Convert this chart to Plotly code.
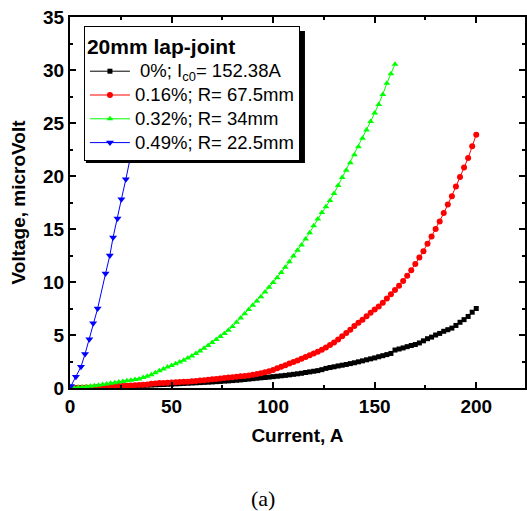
import plotly.graph_objects as go

# ---------------- data ----------------
current_a = [0, 2, 4, 6, 8, 10, 12, 14, 16, 18, 20, 22, 24, 26, 28, 30, 32, 34, 36, 38,
             40, 42, 44, 46, 48, 50, 52, 54, 56, 58, 60, 62, 64, 66, 68, 70, 72, 74, 76, 78,
             80, 82, 84, 86, 88, 90, 92, 94, 96, 98, 100, 102, 104, 106, 108, 110, 112, 114,
             116, 118, 120, 122, 124, 126, 128, 130, 132, 134, 136, 138, 140, 142, 144, 146,
             148, 150, 152, 154, 156, 158, 160, 162, 164, 166, 168, 170, 172, 174, 176, 178,
             180, 182, 184, 186, 188, 190, 192, 194, 196, 198, 200]

v_0pct = [0.0, 0.01, 0.02, 0.03, 0.04, 0.05, 0.06, 0.08, 0.09, 0.10, 0.12, 0.13, 0.15, 0.17,
          0.18, 0.20, 0.21, 0.23, 0.25, 0.26, 0.28, 0.30, 0.32, 0.33, 0.35, 0.37, 0.39, 0.41,
          0.43, 0.45, 0.47, 0.49, 0.51, 0.53, 0.55, 0.57, 0.60, 0.62, 0.65, 0.67, 0.70, 0.73,
          0.76, 0.80, 0.84, 0.88, 0.92, 0.96, 0.99, 1.03, 1.07, 1.11, 1.15, 1.19, 1.24, 1.29,
          1.34, 1.39, 1.46, 1.52, 1.58, 1.64, 1.73, 1.85, 1.93, 2.00, 2.08, 2.15, 2.22, 2.30,
          2.38, 2.47, 2.56, 2.66, 2.75, 2.84, 2.95, 3.05, 3.15, 3.26, 3.58, 3.68, 3.78, 3.90,
          4.01, 4.10, 4.25, 4.45, 4.65, 4.80, 5.00, 5.15, 5.35, 5.50, 5.65, 5.90, 6.20, 6.45,
          6.75, 7.15, 7.50]

v_016pct = [0.0, 0.01, 0.02, 0.03, 0.04, 0.05, 0.07, 0.08, 0.10, 0.12, 0.14, 0.16, 0.18, 0.20,
            0.22, 0.24, 0.26, 0.28, 0.31, 0.34, 0.40, 0.43, 0.46, 0.48, 0.50, 0.52, 0.54, 0.56,
            0.58, 0.60, 0.63, 0.66, 0.70, 0.74, 0.78, 0.82, 0.86, 0.90, 0.94, 0.98, 1.02, 1.06,
            1.10, 1.14, 1.19, 1.25, 1.31, 1.39, 1.48, 1.58, 1.70, 1.86, 2.00, 2.15, 2.30, 2.45,
            2.60, 2.76, 2.92, 3.08, 3.25, 3.43, 3.62, 3.82, 4.05, 4.30, 4.58, 4.88, 5.18, 5.50,
            5.85, 6.15, 6.45, 6.78, 7.10, 7.40, 7.70, 8.05, 8.45, 8.85, 9.25, 9.65, 10.10, 10.60,
            11.10, 11.70, 12.30, 12.90, 13.60, 14.30, 15.00, 15.70, 16.50, 17.30, 18.10, 19.00,
            19.90, 20.80, 21.70, 22.80, 23.90]

v_032pct = [0.0, 0.03, 0.06, 0.09, 0.12, 0.17, 0.22, 0.27, 0.32, 0.38, 0.44, 0.50, 0.56, 0.62,
            0.68, 0.74, 0.80, 0.86, 0.98, 1.10, 1.25, 1.45, 1.62, 1.80, 1.97, 2.12, 2.28, 2.45,
            2.62, 2.82, 3.02, 3.25, 3.48, 3.75, 4.02, 4.30, 4.58, 4.86, 5.15, 5.45, 5.80, 6.20,
            6.60, 7.00, 7.40, 7.80, 8.20, 8.62, 9.05, 9.50, 9.95, 10.40, 10.90, 11.40, 11.90,
            12.45, 13.00, 13.50, 14.05, 14.65, 15.30, 15.95, 16.55, 17.10, 17.70, 18.35, 19.10,
            19.85, 20.55, 21.25, 22.00, 22.75, 23.55, 24.35, 25.15, 25.95, 26.75, 27.70, 28.75,
            29.65, 30.55]

current_049pct = [0.5, 2.9, 5.4, 7.4, 9.5, 11.4, 13.6, 17.5, 19.6, 21.2, 23.4, 25.3, 27.5,
                  29.4, 31.5, 33.5]
v_049pct = [0.2, 1.07, 2.0, 3.2, 4.6, 6.1, 7.5, 10.8, 12.5, 14.2, 16.0, 17.8, 19.7, 21.5,
            23.4, 25.3]

names = ["\u00a00%; I<sub>c0</sub>= 152.38A",
         "0.16%; R= 67.5mm",
         "0.32%; R= 34mm",
         "0.49%; R= 22.5mm"]

# ---------------- figure ----------------
FONT = "Arial, 'Liberation Sans', sans-serif"
fig = go.Figure()

def label(s):
    return '<span style="font-size:18.5px">' + s + '</span>'

fig.add_trace(go.Scatter(x=current_a, y=v_0pct, name=label(names[0]), mode="lines+markers",
                         line=dict(color="black", width=1),
                         marker=dict(symbol="square", size=5, color="black")))
fig.add_trace(go.Scatter(x=current_a, y=v_016pct, name=label(names[1]), mode="lines+markers",
                         line=dict(color="red", width=1),
                         marker=dict(symbol="circle", size=6, color="red")))
fig.add_trace(go.Scatter(x=current_a[:len(v_032pct)], y=v_032pct, name=label(names[2]),
                         mode="lines+markers",
                         line=dict(color="#00ff00", width=1),
                         marker=dict(symbol="triangle-up", size=6, color="#00ff00")))
fig.add_trace(go.Scatter(x=current_049pct, y=v_049pct, name=label(names[3]),
                         mode="lines+markers",
                         line=dict(color="blue", width=1),
                         marker=dict(symbol="triangle-down", size=7, color="blue")))

W, H = 527, 511
L, R, T, B = 70, 0, 17, 123
pw, ph = W - L - R, H - T - B

axis_common = dict(showgrid=False, zeroline=False, showline=True, linecolor="black",
                   linewidth=2, mirror="allticks", ticks="inside", ticklen=6,
                   tickwidth=1.5, tickcolor="black",
                   tickfont=dict(family=FONT, size=19, color="black", weight="bold"))

fig.update_xaxes(range=[0, 224], tick0=0, dtick=50,
                 minor=dict(ticks="inside", ticklen=3, tickwidth=1.5, tickcolor="black",
                            dtick=25),
                 title=dict(text="<b>Current, A</b>", standoff=13,
                            font=dict(family=FONT, size=19, color="black")),
                 **axis_common)
fig.update_yaxes(range=[0, 35], tick0=0, dtick=5,
                 minor=dict(ticks="inside", ticklen=3, tickwidth=1.5, tickcolor="black",
                            dtick=2.5),
                 title=dict(text="<b>Voltage, microVolt</b>", standoff=12,
                            font=dict(family=FONT, size=19, color="black")),
                 **axis_common)

# legend box geometry (pixels)
lx0, ly0 = 84, 26
fig.update_layout(
    width=W, height=H,
    margin=dict(l=L, r=R, t=T, b=B, pad=0),
    paper_bgcolor="white", plot_bgcolor="white",
    font=dict(family=FONT, color="black"),
    showlegend=True,
    legend=dict(x=(lx0 - L) / pw, y=1 - (ly0 - T) / ph, xanchor="left", yanchor="top",
                bgcolor="white", bordercolor="black", borderwidth=1,
                font=dict(family=FONT, size=16, color="black"),
                title=dict(text="<b>20mm lap-joint</b>",
                           font=dict(family=FONT, size=21, color="black")),
                tracegroupgap=0, itemwidth=40),
)

# legend drop shadow
sx0, sy0, sx1, sy1 = 86, 31, 306, 163
fig.add_shape(type="rect", xref="paper", yref="paper", layer="above",
              x0=(sx0 - L) / pw, x1=(sx1 - L) / pw,
              y0=1 - (sy1 - T) / ph, y1=1 - (sy0 - T) / ph,
              fillcolor="black", line=dict(width=0))

fig.add_annotation(text="(a)", xref="paper", yref="paper", showarrow=False,
                   x=(263.5 - L) / pw, y=1 - (498 - T) / ph, xanchor="center",
                   yanchor="middle",
                   font=dict(family="'Liberation Serif', 'Times New Roman', serif", size=22,
                             color="black"))

fig.write_html("out.html")
